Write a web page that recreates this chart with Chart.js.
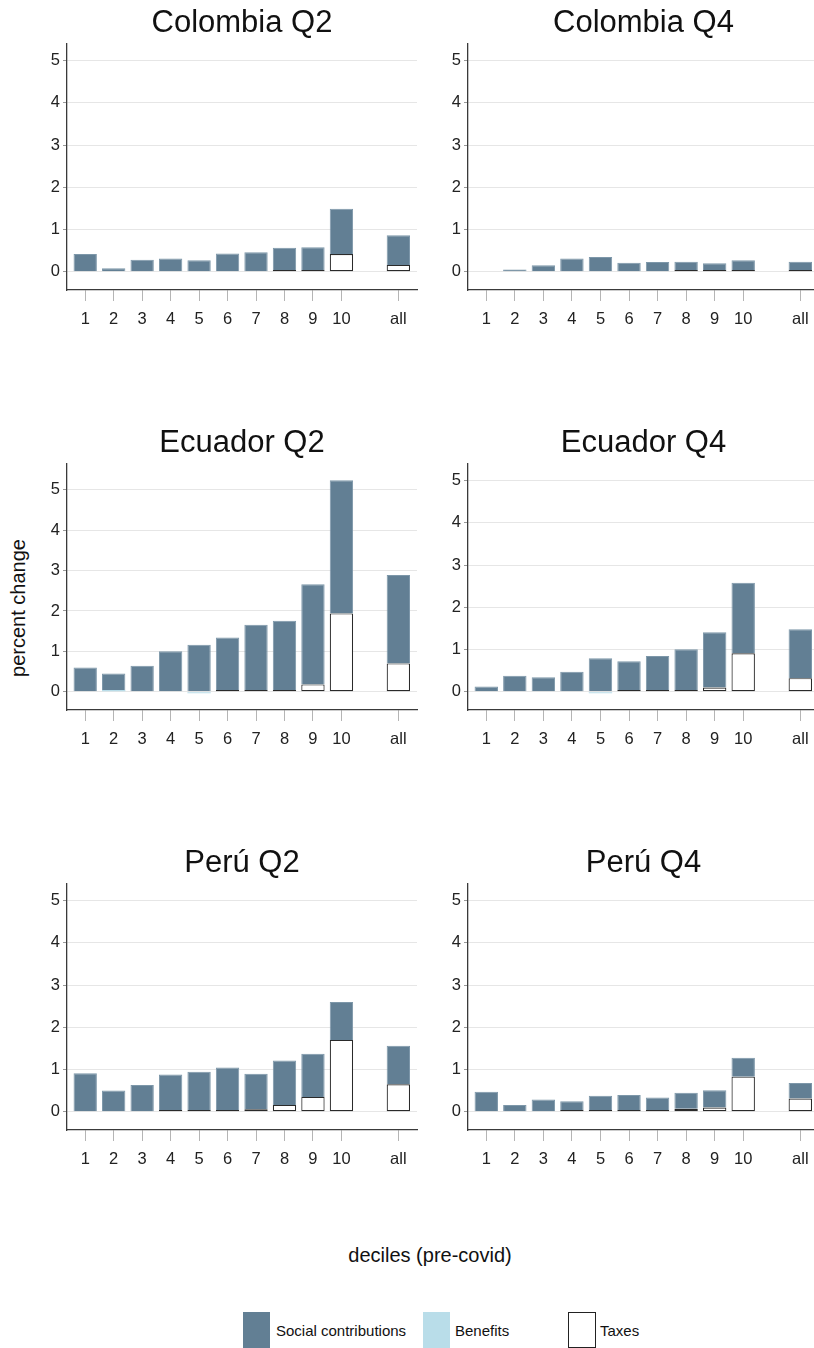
<!DOCTYPE html>
<html><head><meta charset="utf-8">
<script src="https://cdn.jsdelivr.net/npm/chart.js@4.4.1/dist/chart.umd.min.js"></script>
<style>
html,body{margin:0;padding:0;background:#fff;overflow:hidden;width:814px;height:1348px;}
body{position:relative;font-family:'Liberation Sans',Arial,sans-serif;color:#111;}
canvas{position:absolute;}
.t{position:absolute;white-space:nowrap;}
.sw{position:absolute;box-sizing:border-box;}
</style></head><body>
<div class="t" id="ylab" style="left:18px;top:608px;font-size:20px;line-height:24px;transform:translate(-50%,-50%) rotate(-90deg);">percent change</div>
<div class="t" style="left:430px;top:1255px;font-size:20px;line-height:24px;transform:translate(-50%,-50%);">deciles (pre-covid)</div>
<div class="sw" style="left:243px;top:1312px;width:27px;height:36px;background:#627f94;"></div>
<div class="t" style="left:276px;top:1322px;font-size:15px;line-height:18px;">Social contributions</div>
<div class="sw" style="left:423px;top:1312px;width:27px;height:36px;background:#b9dde9;"></div>
<div class="t" style="left:455px;top:1322px;font-size:15px;line-height:18px;">Benefits</div>
<div class="sw" style="left:568px;top:1312px;width:28px;height:36px;background:#fff;border:1.3px solid #222;"></div>
<div class="t" style="left:600px;top:1322px;font-size:15px;line-height:18px;">Taxes</div>
<script>
// ---- data ----
const categories = ['1','2','3','4','5','6','7','8','9','10','all'];
const yTicks = [0,1,2,3,4,5];

const colombiaQ2Social   = [0.42,0.08,0.28,0.31,0.27,0.43,0.46,0.53,0.54,1.07,0.70];
const colombiaQ2Benefits = [null,null,null,null,null,null,null,null,null,null,null];
const colombiaQ2Taxes    = [null,null,null,null,null,null,null,0.02,0.02,0.42,0.16];

const colombiaQ4Social   = [null,0.05,0.15,0.31,0.35,0.21,0.23,0.20,0.16,0.23,0.20];
const colombiaQ4Benefits = [null,null,null,null,null,null,null,null,null,null,null];
const colombiaQ4Taxes    = [null,null,null,null,null,null,null,0.01,0.01,0.01,0.01];

const ecuadorQ2Social    = [0.60,0.41,0.64,1.00,1.16,1.30,1.62,1.72,2.48,3.30,2.19];
const ecuadorQ2Benefits  = [null,0.04,null,null,-0.03,null,null,null,null,null,null];
const ecuadorQ2Taxes     = [null,null,null,null,null,0.01,0.02,0.02,0.18,1.94,0.70];

const ecuadorQ4Social    = [0.12,0.38,0.34,0.47,0.79,0.68,0.81,0.97,1.31,1.67,1.16];
const ecuadorQ4Benefits  = [null,null,null,null,-0.02,null,null,null,null,null,null];
const ecuadorQ4Taxes     = [null,null,null,null,null,0.01,0.01,0.02,0.10,0.91,0.32];

const peruQ2Social       = [0.91,0.50,0.63,0.84,0.91,1.01,0.84,1.05,1.02,0.90,0.91];
const peruQ2Benefits     = [null,null,null,null,null,null,null,null,null,null,null];
const peruQ2Taxes        = [null,null,null,0.01,0.02,0.02,0.06,0.16,0.35,1.70,0.65];

const peruQ4Social       = [0.47,0.16,0.29,0.21,0.34,0.36,0.30,0.38,0.41,0.45,0.37];
const peruQ4Benefits     = [null,null,null,null,null,null,null,null,null,null,null];
const peruQ4Taxes        = [null,null,null,0.01,0.01,0.02,0.03,0.07,0.10,0.83,0.31];

// ---- drawing ----
Chart.defaults.font.family = "'Liberation Sans', Arial, sans-serif";
// category slot: deciles 1..10, one empty slot, then "all"
const slotOf = i => (i < 10 ? i + 1 : i + 2);
const labelFor = v => { const i = categories.findIndex((c, k) => slotOf(k) === v); return i >= 0 ? categories[i] : ''; };

const panels = [
  {title:'Colombia Q2', social:colombiaQ2Social, benefits:colombiaQ2Benefits, taxes:colombiaQ2Taxes, yMin:-0.434, yMax:5.41, col:0, row:0},
  {title:'Colombia Q4', social:colombiaQ4Social, benefits:colombiaQ4Benefits, taxes:colombiaQ4Taxes, yMin:-0.434, yMax:5.41, col:1, row:0},
  {title:'Ecuador Q2', social:ecuadorQ2Social, benefits:ecuadorQ2Benefits, taxes:ecuadorQ2Taxes, yMin:-0.455, yMax:5.66, col:0, row:1},
  {title:'Ecuador Q4', social:ecuadorQ4Social, benefits:ecuadorQ4Benefits, taxes:ecuadorQ4Taxes, yMin:-0.434, yMax:5.41, col:1, row:1},
  {title:'Perú Q2', social:peruQ2Social, benefits:peruQ2Benefits, taxes:peruQ2Taxes, yMin:-0.434, yMax:5.41, col:0, row:2},
  {title:'Perú Q4', social:peruQ4Social, benefits:peruQ4Benefits, taxes:peruQ4Taxes, yMin:-0.434, yMax:5.41, col:1, row:2}
];

function makeChart(p) {
  const cv = document.createElement('canvas');
  cv.width = 420; cv.height = 420;
  cv.style.left = (p.col * 407) + 'px';
  cv.style.top = (p.row * 420) + 'px';
  document.body.appendChild(cv);
  const yW = p.col === 0 ? 67 : 61;
  const padR = p.col === 0 ? 3 : 8;
  const toPts = arr => arr.map((v, i) => ({x: slotOf(i), y: v}));
  new Chart(cv, {
    type: 'bar',
    data: {datasets: [
      {label:'Taxes', data:toPts(p.taxes), backgroundColor:'#ffffff', borderColor:'#2a2a2a', borderWidth:1.2, borderSkipped:false, minBarLength:1.6},
      {label:'Benefits', data:toPts(p.benefits), backgroundColor:'#b9dde9', borderWidth:0, minBarLength:1.5},
      {label:'Social contributions', data:toPts(p.social), backgroundColor:'#627f94', borderColor:'#7d97a9', borderWidth:1, borderSkipped:'start'}
    ]},
    options: {
      responsive:false, animation:false,
      layout:{padding:{left:0, right:padR, top:0, bottom:90}},
      datasets:{bar:{barPercentage:0.82, categoryPercentage:1}},
      plugins:{
        legend:{display:false}, tooltip:{enabled:false},
        title:{display:true, text:p.title, fullSize:false, color:'#111', font:{size:31, weight:'normal'}, padding:{top:4.5, bottom:1.6}}
      },
      scales:{
        x:{type:'linear', stacked:true, offset:false, min:0.36, max:12.655,
          afterBuildTicks: s => { s.ticks = categories.map((c, i) => ({value: slotOf(i)})); },
          afterFit: s => { s.height = 40; },
          ticks:{callback: v => labelFor(v), font:{size:16.5}, color:'#222', padding:9, maxRotation:0, autoSkip:false},
          grid:{offset:false, drawOnChartArea:false, drawTicks:true, tickLength:11, tickColor:'#b5b5b5', tickWidth:1},
          border:{display:true, color:'#3a3a3a', width:1.3}
        },
        y:{stacked:true, min:p.yMin, max:p.yMax,
          afterBuildTicks: s => { s.ticks = yTicks.map(v => ({value: v})); },
          afterFit: s => { s.width = yW; },
          ticks:{font:{size:16.5}, color:'#222', padding:3},
          grid:{color:'#e6e6e6', lineWidth:1, tickLength:4, tickColor:'#999'},
          border:{display:true, color:'#3a3a3a', width:1.3}
        }
      }
    }
  });
}
panels.forEach(makeChart);
</script>
</body></html>
